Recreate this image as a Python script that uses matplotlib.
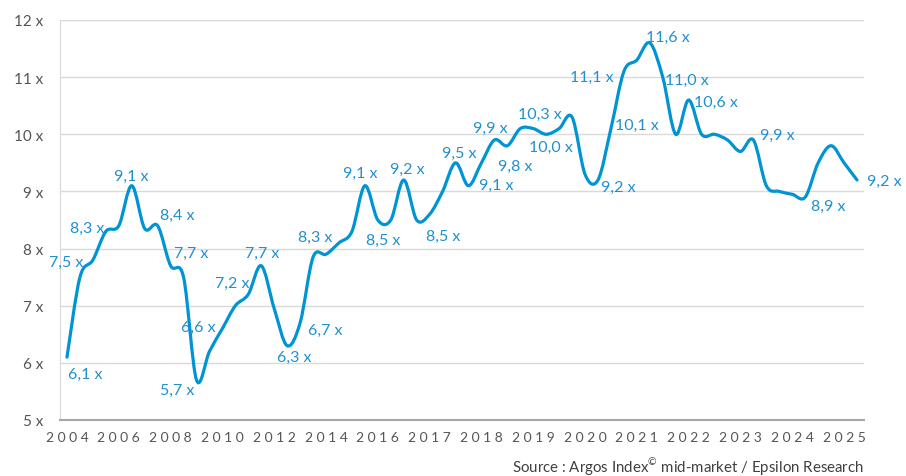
import matplotlib
matplotlib.use("Agg")
import matplotlib.pyplot as plt
import numpy as np
from matplotlib.path import Path
from matplotlib.patches import PathPatch

plt.rcParams['font.family'] = ['Lato', 'DejaVu Sans']
plt.rcParams['mathtext.fontset'] = 'custom'
plt.rcParams['mathtext.rm'] = 'Lato'

# multiple (x) per period : semi-annual up to 2016, quarterly afterwards
values = [6.1, 7.5, 7.8, 8.3, 8.4, 9.1, 8.35, 8.4, 7.7, 7.5,
          5.7, 6.2, 6.6, 7.0, 7.2, 7.7, 6.95, 6.3, 6.7, 7.85,
          7.9, 8.1, 8.3, 9.1, 8.5, 8.5, 9.2, 8.5, 8.6, 9.0,
          9.5, 9.1, 9.5, 9.9, 9.8, 10.1, 10.1, 10.0, 10.1, 10.3,
          9.3, 9.2, 10.1, 11.1, 11.3, 11.6, 11.0, 10.0, 10.6, 10.0,
          10.0, 9.9, 9.7, 9.9, 9.1, 9.0, 8.95, 8.9, 9.5, 9.8,
          9.5, 9.2]
year_labels = ['2004', '2006', '2008', '2010', '2012', '2014', '2016', '2017',
               '2018', '2019', '2020', '2021', '2022', '2023', '2024', '2025']
year_pos = list(range(0, 61, 4))

# which points get a value label, and where the label sits (pixels from point)
labelled = [0, 1, 3, 5, 7, 8, 10, 12, 14, 15, 17, 18, 22, 23, 24, 26,
            27, 30, 31, 33, 34, 37, 39, 41, 42, 43, 45, 46, 48, 53, 57, 61]
label_offsets = [(18, -17), (-14, 15), (-19, 4), (0, 10), (20, 11), (21, 13),
                 (-19, -10), (-24, 2), (-16, 11), (1, 13), (7, -11), (25, -7),
                 (-37, -5), (-5, 13), (5, -20), (4, 11), (27, -16), (4, 10),
                 (28, 1), (-4, 12), (8, -20), (5, -13), (-32, 3), (20, -7),
                 (26, 4), (-32, -5), (18, 6), (24, -3), (27, -2), (24, 5),
                 (23, -9), (27, -1)]

blue = '#0094d4'
label_blue = '#2190cf'
grey_txt = '#555555'

fig = plt.figure(figsize=(9.06, 4.77), dpi=100)
ax = fig.add_axes([60/906, 56/477, 804/906, 400/477])

# smoothed line (catmull-rom style bezier through the data points)
pts = np.column_stack([np.arange(len(values)), values]).astype(float)
verts = [tuple(pts[0])]
codes = [Path.MOVETO]
n = len(pts)
for i in range(n - 1):
    p0 = pts[i - 1] if i > 0 else pts[i]
    p1 = pts[i]
    p2 = pts[i + 1]
    p3 = pts[i + 2] if i + 2 < n else pts[i + 1]
    c1 = p1 + (p2 - p0) / 6
    c2 = p2 - (p3 - p1) / 6
    verts += [tuple(c1), tuple(c2), tuple(p2)]
    codes += [Path.CURVE4] * 3
line = PathPatch(Path(verts, codes), facecolor='none', edgecolor=blue,
                 lw=2.3, capstyle='round', joinstyle='round', zorder=3)
ax.add_patch(line)

for k, off in zip(labelled, label_offsets):
    txt = f"{values[k]:.1f}".replace('.', ',') + " x"
    ax.annotate(txt, (k, values[k]), xytext=off, textcoords='offset pixels',
                ha='center', va='center', fontsize=11.5, color=label_blue,
                zorder=4, annotation_clip=False)

ax.set_xlim(-0.54, 61.54)
ax.set_ylim(5, 12)
ax.set_yticks(range(5, 13))
ax.set_yticklabels([f"{v} x" for v in range(5, 13)])
ax.set_xticks(year_pos)
ax.set_xticklabels([' '.join(y) for y in year_labels])
ax.tick_params(axis='y', length=0, pad=12, labelsize=11, labelcolor=grey_txt)
ax.tick_params(axis='x', length=0, pad=8, labelsize=10, labelcolor=grey_txt)

ax.grid(axis='y', color='#d9d9d9', lw=1)
ax.set_axisbelow(True)
for s in ['top', 'right']:
    ax.spines[s].set_visible(False)
ax.spines['left'].set_color('#d9d9d9')
ax.spines['bottom'].set_color('#a6a6a6')
ax.spines['bottom'].set_linewidth(1.5)

fig.text(864/906, 1 - 467/477,
         "Source : Argos Index$^{\u00a9}$ mid-market / Epsilon Research",
         ha='right', va='center', fontsize=10.8, color='#404040')

fig.savefig('out.png', dpi=100)
